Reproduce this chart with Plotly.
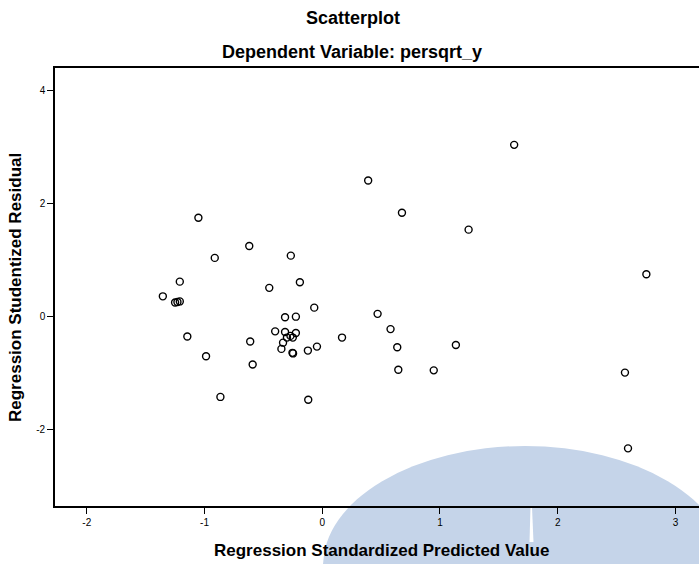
import plotly.graph_objects as go

# Data
pred_value = [-1.354, -1.25, -1.23, -1.21, -1.21, -1.146, -1.052, -0.987, -0.913, -0.865,
              -0.62, -0.612, -0.591, -0.45, -0.40, -0.347, -0.333, -0.316, -0.316, -0.30,
              -0.27, -0.267, -0.25, -0.253, -0.248, -0.224, -0.224, -0.19, -0.122, -0.119,
              -0.068, -0.045, 0.168, 0.39, 0.47, 0.58, 0.637, 0.646, 0.677, 0.947,
              1.135, 1.243, 1.63, 2.571, 2.597, 2.753]
stud_resid = [0.35, 0.24, 0.25, 0.26, 0.61, -0.36, 1.74, -0.71, 1.03, -1.43,
              1.24, -0.45, -0.855, 0.50, -0.27, -0.58, -0.47, -0.02, -0.28, -0.38,
              -0.35, 1.07, -0.38, -0.65, -0.66, -0.01, -0.30, 0.60, -0.61, -1.48,
              0.15, -0.54, -0.38, 2.40, 0.04, -0.23, -0.55, -0.95, 1.83, -0.96,
              -0.51, 1.53, 3.03, -1.0, -2.34, 0.74]
x_ticks = [-2, -1, 0, 1, 2, 3]
y_ticks = [-2, 0, 2, 4]

W, H = 699, 564
ML, MR, MT, MB = 55, 0, 68, 58
FONT = "Arial, Liberation Sans, sans-serif"

def px_to_paper_x(px):
    return (px - ML) / (W - ML - MR)

def px_to_paper_y(py):
    return (H - MB - py) / (H - MT - MB)

fig = go.Figure(go.Scatter(
    x=pred_value, y=stud_resid, mode="markers",
    marker=dict(symbol="circle-open", size=7, color="black", line=dict(width=1.4, color="black")),
))

fig.update_layout(
    width=W, height=H,
    margin=dict(l=ML, r=MR, t=MT, b=MB),
    paper_bgcolor="white", plot_bgcolor="rgba(0,0,0,0)",
    showlegend=False,
    font=dict(family=FONT, color="black"),
    xaxis=dict(range=[-2.27, 3.20], tickvals=x_ticks, ticktext=[str(v) for v in x_ticks],
               showgrid=False, zeroline=False, showline=True, linecolor="black", linewidth=1.6,
               mirror=True, ticks="outside", ticklen=6, tickcolor="black", tickwidth=1.2,
               tickfont=dict(size=10, family=FONT)),
    yaxis=dict(range=[-3.36, 4.39], tickvals=y_ticks, ticktext=[str(v) for v in y_ticks],
               showgrid=False, zeroline=False, showline=True, linecolor="black", linewidth=1.6,
               ticks="outside", ticklen=6, tickcolor="black", tickwidth=1.2,
               tickfont=dict(size=10, family=FONT)),
    annotations=[
        dict(text="<b>Scatterplot</b>", x=px_to_paper_x(353), y=px_to_paper_y(18),
             xref="paper", yref="paper",
             xanchor="center", yanchor="middle", showarrow=False, font=dict(size=18, family=FONT)),
        dict(text="<b>Dependent Variable: persqrt_y</b>", x=px_to_paper_x(352), y=px_to_paper_y(52),
             xref="paper", yref="paper", xanchor="center", yanchor="middle", showarrow=False,
             font=dict(size=18, family=FONT)),
        dict(text="<b>Regression Standardized Predicted Value</b>", x=px_to_paper_x(381),
             y=px_to_paper_y(550), xref="paper", yref="paper", xanchor="center", yanchor="middle",
             showarrow=False, font=dict(size=17, family=FONT)),
        dict(text="<b>Regression Studentized Residual</b>", x=px_to_paper_x(15),
             y=px_to_paper_y(288), xref="paper", yref="paper", xanchor="center", yanchor="middle",
             textangle=-90, showarrow=False, font=dict(size=17, family=FONT)),
    ],
    shapes=[
        # faint watermark in the reference image
        dict(type="circle", xref="paper", yref="paper", layer="below",
             x0=px_to_paper_x(525 - 202), x1=px_to_paper_x(525 + 202),
             y0=px_to_paper_y(446), y1=px_to_paper_y(446 + 240),
             fillcolor="rgb(197,212,233)", line=dict(width=0)),
        dict(type="path", xref="paper", yref="paper", layer="below",
             path="M {} {} L {} {} L {} {} L {} {} Z".format(
                 px_to_paper_x(530.5), px_to_paper_y(507), px_to_paper_x(532), px_to_paper_y(507),
                 px_to_paper_x(533.5), px_to_paper_y(542), px_to_paper_x(529.5), px_to_paper_y(542)),
             fillcolor="white", line=dict(width=0)),
    ],
)

fig.write_html("out.html", config={"displayModeBar": False},
               post_script="document.body.style.margin='0';document.body.style.padding='0';"
                           "document.body.style.overflow='hidden';")
